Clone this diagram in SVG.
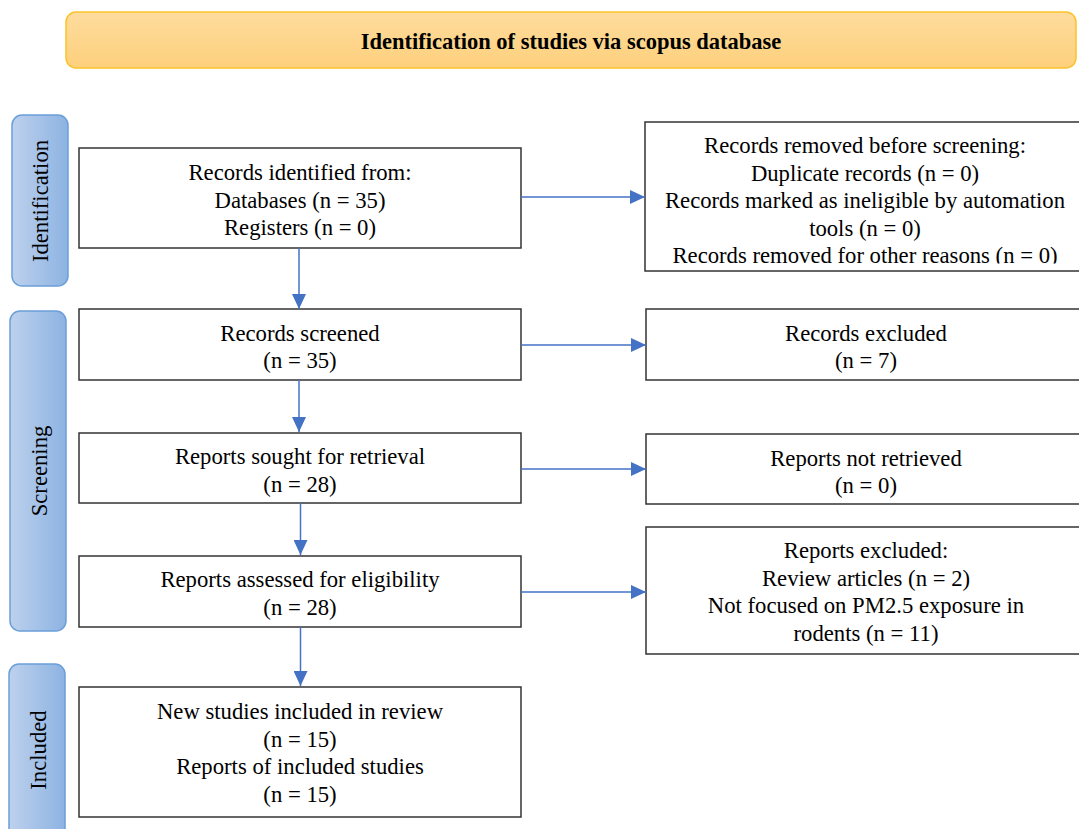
<svg xmlns="http://www.w3.org/2000/svg" width="1079" height="829" viewBox="0 0 1079 829">
<style>
  text { font-family: "Liberation Serif", "Times New Roman", serif; font-size: 22.7px; fill: #000; text-anchor: middle; }
  .title { font-weight: bold; font-size: 22.5px; }
  .box { fill: #fff; stroke: #333; stroke-width: 1.5; }
  .side { fill: url(#blueGrad); stroke: #6b9fd9; stroke-width: 1.5; }
  .conn { stroke: #4472c4; stroke-width: 1.5; fill: none; marker-end: url(#arrow); }
</style>
<defs>
  <linearGradient id="blueGrad" x1="0" y1="0" x2="1" y2="0">
    <stop offset="0" stop-color="#bdd1ed"/>
    <stop offset="1" stop-color="#8db3e2"/>
  </linearGradient>
  <linearGradient id="orangeGrad" x1="0" y1="0" x2="0" y2="1">
    <stop offset="0" stop-color="#fedc9e"/>
    <stop offset="1" stop-color="#fdd07c"/>
  </linearGradient>
  <marker id="arrow" markerWidth="15" markerHeight="14" refX="15" refY="7" orient="auto" markerUnits="userSpaceOnUse">
    <path d="M0,0 L15,7 L0,14 Z" fill="#4472c4"/>
  </marker>
  <clipPath id="clipR1">
    <rect x="640" y="120" width="450" height="143.5"/>
  </clipPath>
</defs>

<g id="title">
  <rect x="66" y="12" width="1010" height="56" rx="10" ry="10" fill="url(#orangeGrad)" stroke="#fcc22a" stroke-width="1.5"/>
  <text class="title" x="571" y="49">Identification of studies via scopus database</text>
</g>

<g id="side-identification">
  <rect class="side" x="12" y="115" width="56" height="171" rx="10" ry="10"/>
  <text transform="translate(48,201) rotate(-90)">Identification</text>
</g>
<g id="side-screening">
  <rect class="side" x="10" y="311" width="56" height="320" rx="10" ry="10"/>
  <text transform="translate(47,471) rotate(-90)">Screening</text>
</g>
<g id="side-included">
  <rect class="side" x="9" y="664" width="56" height="175" rx="10" ry="10"/>
  <text transform="translate(46,750) rotate(-90)">Included</text>
</g>

<g id="records-identified">
  <rect class="box" x="79" y="148" width="442" height="100"/>
  <text x="300" y="180">Records identified from:</text>
  <text x="300" y="207.5">Databases (n = 35)</text>
  <text x="300" y="235">Registers (n = 0)</text>
</g>

<g id="records-removed">
  <rect class="box" x="645" y="122" width="445" height="149"/>
  <g clip-path="url(#clipR1)">
    <text x="865" y="153">Records removed before screening:</text>
    <text x="865" y="180.5">Duplicate records (n = 0)</text>
    <text x="865" y="208">Records marked as ineligible by automation</text>
    <text x="865" y="235.5">tools (n = 0)</text>
    <text x="865" y="263">Records removed for other reasons (n = 0)</text>
  </g>
</g>

<g id="records-screened">
  <rect class="box" x="79" y="309" width="442" height="71"/>
  <text x="300" y="341">Records screened</text>
  <text x="300" y="368">(n = 35)</text>
</g>

<g id="records-excluded">
  <rect class="box" x="646" y="309" width="445" height="71"/>
  <text x="866" y="341">Records excluded</text>
  <text x="866" y="368">(n = 7)</text>
</g>

<g id="reports-sought">
  <rect class="box" x="79" y="433" width="442" height="70"/>
  <text x="300" y="464">Reports sought for retrieval</text>
  <text x="300" y="492">(n = 28)</text>
</g>

<g id="reports-not-retrieved">
  <rect class="box" x="646" y="434" width="445" height="70"/>
  <text x="866" y="466">Reports not retrieved</text>
  <text x="866" y="493">(n = 0)</text>
</g>

<g id="reports-assessed">
  <rect class="box" x="79" y="556" width="442" height="71"/>
  <text x="300" y="587">Reports assessed for eligibility</text>
  <text x="300" y="615">(n = 28)</text>
</g>

<g id="reports-excluded">
  <rect class="box" x="646" y="527" width="445" height="127"/>
  <text x="866" y="558">Reports excluded:</text>
  <text x="866" y="586">Review articles (n = 2)</text>
  <text x="866" y="613">Not focused on PM2.5 exposure in</text>
  <text x="866" y="641">rodents (n = 11)</text>
</g>

<g id="studies-included">
  <rect class="box" x="79" y="687" width="442" height="130"/>
  <text x="300" y="719">New studies included in review</text>
  <text x="300" y="747">(n = 15)</text>
  <text x="300" y="774">Reports of included studies</text>
  <text x="300" y="802">(n = 15)</text>
</g>

<g id="connectors">
  <line class="conn" x1="299" y1="248" x2="299" y2="309"/>
  <line class="conn" x1="299" y1="380" x2="299" y2="432"/>
  <line class="conn" x1="300.5" y1="503" x2="300.5" y2="555"/>
  <line class="conn" x1="300.5" y1="627" x2="300.5" y2="686"/>
  <line class="conn" x1="521" y1="197" x2="645" y2="197"/>
  <line class="conn" x1="521" y1="345" x2="646" y2="345"/>
  <line class="conn" x1="521" y1="469" x2="646" y2="469"/>
  <line class="conn" x1="521" y1="592" x2="646" y2="592"/>
</g>
</svg>
